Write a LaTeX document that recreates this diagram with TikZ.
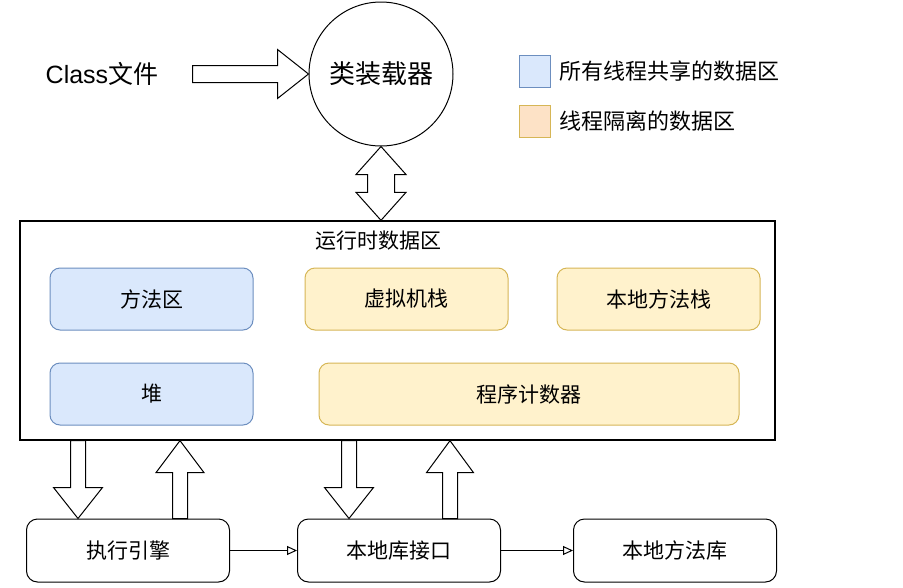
\documentclass[tikz,border=0pt]{standalone}
\usepackage{fontspec}
\setmainfont{Noto Sans CJK SC}
\newfontfamily\latinfont{Liberation Sans}
\usetikzlibrary{calc, arrows.meta, positioning}

\definecolor{sharedfill}{HTML}{DAE8FC}
\definecolor{shareddraw}{HTML}{6C8EBF}
\definecolor{isofill}{HTML}{FFF2CC}
\definecolor{isodraw}{HTML}{D6B656}
\definecolor{legendiso}{HTML}{FDE2C6}

% hollow arrow: from, to, shaft half width, head half width, head length
\newcommand{\fatarrow}[5]{%
  \coordinate (faA) at (#1);
  \coordinate (faB) at (#2);
  \coordinate (faH) at ($(faB)!#5!(faA)$);
  \draw[fatline] ($(faA)!#3!90:(faB)$) -- ($(faH)!#3!90:(faB)$) -- ($(faH)!#4!90:(faB)$) -- (faB)
    -- ($(faH)!#4!-90:(faB)$) -- ($(faH)!#3!-90:(faB)$) -- ($(faA)!#3!-90:(faB)$) -- cycle;
}
\newcommand{\fatdarrow}[5]{%
  \coordinate (faA) at (#1);
  \coordinate (faB) at (#2);
  \coordinate (faH) at ($(faA)!#5!(faB)$);
  \coordinate (faK) at ($(faB)!#5!(faA)$);
  \draw[fatline] (faA) -- ($(faH)!#4!90:(faB)$) -- ($(faH)!#3!90:(faB)$) -- ($(faK)!#3!90:(faB)$)
    -- ($(faK)!#4!90:(faB)$) -- (faB) -- ($(faK)!#4!-90:(faB)$) -- ($(faK)!#3!-90:(faB)$)
    -- ($(faH)!#3!-90:(faB)$) -- ($(faH)!#4!-90:(faB)$) -- cycle;
}

\begin{document}
\begin{tikzpicture}[x=1pt, y=-1pt, line width=1pt,
    region/.style={draw, rounded corners=10pt, minimum width=203pt, minimum height=62pt, font=\fontsize{21}{24}\selectfont},
    shared/.style={region, fill=sharedfill, draw=shareddraw},
    isolated/.style={region, fill=isofill, draw=isodraw},
    unit/.style={draw, rounded corners=11pt, minimum width=203pt, minimum height=63pt, font=\fontsize{21}{24}\selectfont},
    legendbox/.style={draw, minimum width=31pt, minimum height=32pt},
    legendtext/.style={anchor=west, font=\fontsize{22}{25}\selectfont},
    fatline/.style={draw, fill=white, line width=1pt, line join=miter}]
    \useasboundingbox (0,0) rectangle (903,587);

    \node[font=\fontsize{25}{28}\selectfont] (cls) at (102,74) {{\latinfont Class}文件};
    \node[circle, draw, minimum size=144pt, inner sep=0pt, font=\fontsize{26}{30}\selectfont] (loader) at (381,74) {类装载器};

    \node[legendbox, fill=sharedfill, draw=shareddraw] (keyshared) at (535,71) {};
    \node[legendtext] (keysharedtext) at (556,71) {所有线程共享的数据区};
    \node[legendbox, fill=legendiso, draw=isodraw] (keyiso) at (535,121) {};
    \node[legendtext] (keyisotext) at (556,121) {线程隔离的数据区};

    \node[draw, line width=1.3pt, minimum width=755pt, minimum height=219pt] (rt) at (397.5,330.5) {};
    \node[font=\fontsize{21}{24}\selectfont] (rttitle) at (378,241) {运行时数据区};

    \node[shared] (method) at (151.5,299) {方法区};
    \node[isolated] (vmstack) at (406.5,299) {虚拟机栈};
    \node[isolated] (nstack) at (658.5,299) {本地方法栈};
    \node[shared] (heap) at (151.5,394) {堆};
    \node[isolated, minimum width=420pt] (pc) at (529,394) {程序计数器};

    \node[unit] (engine) at (128,550.5) {执行引擎};
    \node[unit] (nif) at (399,550.5) {本地库接口};
    \node[unit] (nlib) at (675,550.5) {本地方法库};

    \fatarrow{$(loader.west)+(-116,0)$}{loader.west}{8.5pt}{24.5pt}{31pt}
    \fatdarrow{loader.south}{loader.south |- rt.north}{13.5pt}{25pt}{28pt}

    \fatarrow{$(engine.north |- rt.south)+(-50,0)$}{$(engine.north)+(-50,0)$}{7.5pt}{24.5pt}{31pt}
    \fatarrow{$(engine.north)+(52,0)$}{$(engine.north |- rt.south)+(52,0)$}{7.5pt}{24pt}{32pt}
    \fatarrow{$(nif.north |- rt.south)+(-50,0)$}{$(nif.north)+(-50,0)$}{7.5pt}{24.5pt}{31pt}
    \fatarrow{$(nif.north)+(51,0)$}{$(nif.north |- rt.south)+(51,0)$}{7.5pt}{23.5pt}{32pt}

    \draw[-{Triangle[open, length=10pt, width=9pt]}] (engine) -- (nif);
    \draw[-{Triangle[open, length=10pt, width=9pt]}] (nif) -- (nlib);
\end{tikzpicture}
\end{document}
